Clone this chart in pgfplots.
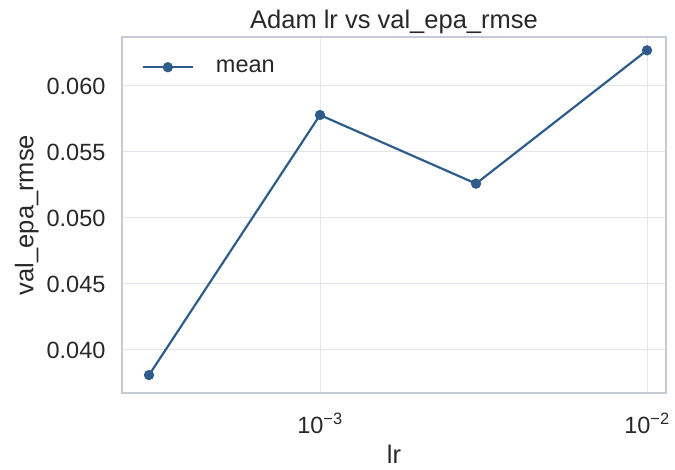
\documentclass[border=0pt]{standalone}
\usepackage{fontspec}
\setmainfont{Liberation Sans}
\usepackage{pgfplots}
\pgfplotsset{compat=1.18}
\definecolor{linecol}{RGB}{48,92,140}
\definecolor{framecol}{RGB}{196,203,215}
\definecolor{gridcol}{RGB}{226,229,236}
\definecolor{textcol}{RGB}{40,40,40}
\begin{document}
\begin{tikzpicture}
\begin{axis}[
  scale only axis,
  width=544pt, height=356pt,
  xmode=log,
  xmin=2.48e-4, xmax=1.143e-2,
  ymin=0.03674, ymax=0.06371,
  xtick={1e-3,1e-2},
  xticklabels={10\textsuperscript{−3},10\textsuperscript{−2}},
  xminorticks=false,
  ytick={0.040,0.045,0.050,0.055,0.060},
  scaled y ticks=false,
  /pgf/number format/assume math mode=true,
  yticklabel style={/pgf/number format/fixed,/pgf/number format/fixed zerofill,/pgf/number format/precision=3},
  tick label style={font=\fontsize{23.5}{26}\selectfont, text=textcol},
  xticklabel style={yshift=-16pt},
  yticklabel style={xshift=-13pt},
  major tick length=0pt,
  grid=major,
  major grid style={gridcol, line width=1pt},
  axis line style={framecol, line width=1.4pt},
  title={Adam lr vs val\_epa\_rmse},
  title style={font=\fontsize{25.5}{28}\selectfont, text=textcol, yshift=-6pt},
  xlabel={lr},
  ylabel={val\_epa\_rmse},
  label style={font=\fontsize{25.5}{28}\selectfont, text=textcol},
  xlabel style={yshift=-5pt},
  ylabel style={yshift=1pt},
  legend image code/.code={
    \draw[mark repeat=2, mark phase=2, #1] plot coordinates {(0pt,0pt) (25pt,0pt) (50pt,0pt)};
  },
  legend style={draw=none, fill=white, font=\fontsize{23.5}{26}\selectfont, text=textcol,
    at={(0.036,0.915)}, anchor=west, inner sep=0pt,
    /tikz/every odd column/.append style={column sep=20pt}},
  legend cell align=left,
]
\addplot[color=linecol, line width=2.2pt, mark=*, mark size=4pt, mark options={fill=linecol, draw=linecol}]
  coordinates {
    (3e-4, 0.0381)
    (1e-3, 0.0578)
    (3e-3, 0.0526)
    (1e-2, 0.0627)
  };
\addlegendentry{mean}
\end{axis}
\path (current axis.south west) ++(-122pt,-76pt) coordinate (bbsw);
\path (current axis.north east) ++(9pt,37pt) coordinate (bbne);
\useasboundingbox (bbsw) rectangle (bbne);
\end{tikzpicture}
\end{document}
